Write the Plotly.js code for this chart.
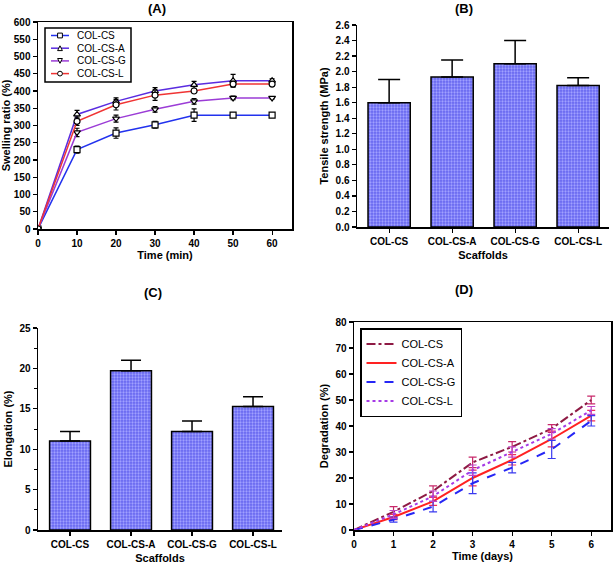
<!DOCTYPE html>
<html>
<head>
<meta charset="utf-8">
<script src="https://cdn.plot.ly/plotly-3.0.1.min.js"></script>
<style>html,body{margin:0;padding:0;background:#fff;}#chart{width:614px;height:565px;}</style>
</head>
<body>
<div id="chart"></div>
<script>
// ---- Data ----
const seriesNames = ["COL-CS", "COL-CS-A", "COL-CS-G", "COL-CS-L"];

// (A) Swelling ratio
const swellTime = [0, 10, 20, 30, 40, 50, 60];
const swellCS  = [0, 230, 278, 302, 330, 330, 330];
const swellCSA = [0, 332, 370, 400, 418, 430, 430];
const swellCSG = [0, 280, 320, 347, 370, 380, 380];
const swellCSL = [0, 312, 360, 388, 400, 420, 420];
const swellErrCS  = [0, 10, 15, 10, 18, 5, 3];
const swellErrCSA = [0, 12, 10, 10, 10, 18, 5];
const swellErrCSG = [0, 12, 10, 8, 8, 5, 3];
const swellErrCSL = [0, 12, 15, 15, 5, 8, 5];

// (B) Tensile strength
const scaffolds = ["COL-CS", "COL-CS-A", "COL-CS-G", "COL-CS-L"];
const tensile    = [1.6, 1.93, 2.1, 1.82];
const tensileErr = [0.3, 0.22, 0.3, 0.1];

// (C) Elongation
const elongation    = [11.0, 19.7, 12.2, 15.3];
const elongationErr = [1.2, 1.3, 1.3, 1.2];

// (D) Degradation
const degDays = [0, 1, 2, 3, 4, 5, 6];
const degCS  = [0, 7, 15, 26, 32, 39, 50];
const degCSA = [0, 5, 11, 20, 27, 35, 44];
const degCSG = [0, 4, 9, 18, 24, 31, 42];
const degCSL = [0, 6, 13, 23, 30, 37, 46];
const degErrCS  = [0, 2, 2, 2, 2, 1.5, 1.5];
const degErrCSA = [0, 1, 1.5, 3, 2, 3, 2];
const degErrCSG = [0, 1, 2, 4, 2, 3.5, 2];
const degErrCSL = [0, 1.5, 2, 2, 2, 2, 1.5];

// ---- Styles ----
const FONT = "Liberation Sans, Arial, sans-serif";
const W = 614, H = 565;
const px = v => v / W;
const py = v => 1 - v / H;
const dx = (a, b) => [a / W, b / W];
const dy = (top, bottom) => [1 - bottom / H, 1 - top / H];

const aColors = ["#2232EE", "#5A2CE0", "#9B3CD6", "#F03434"];
const aSymbols = ["square", "triangle-up", "triangle-down", "circle"];
const aY = [swellCS, swellCSA, swellCSG, swellCSL];
const aErr = [swellErrCS, swellErrCSA, swellErrCSG, swellErrCSL];

const traces = [];
for (let i = 0; i < 4; i++) {
  traces.push({
    type: "scatter", mode: "lines+markers",
    x: swellTime, y: aY[i], name: seriesNames[i],
    xaxis: "x", yaxis: "y", showlegend: false,
    line: {color: aColors[i], width: 1.5},
    marker: {symbol: aSymbols[i], size: 6, color: "white", line: {color: "black", width: 1.2}},
    error_y: {type: "data", array: aErr[i], visible: true, color: "black", thickness: 1.2, width: 2.5}
  });
}

const barMarker = {
  color: "#7070F2",
  line: {color: "black", width: 1.5},
  pattern: {shape: ".", fgcolor: "#A0A0FF", bgcolor: "#6666F0", size: 3, solidity: 0.45}
};

traces.push({
  type: "bar", x: scaffolds, y: tensile, xaxis: "x2", yaxis: "y2", showlegend: false,
  width: 0.67, marker: barMarker,
  error_y: {type: "data", symmetric: false, array: tensileErr, arrayminus: [0,0,0,0], color: "black", thickness: 1.5, width: 11}
});
traces.push({
  type: "bar", x: scaffolds, y: elongation, xaxis: "x3", yaxis: "y3", showlegend: false,
  width: 0.67, marker: barMarker,
  error_y: {type: "data", symmetric: false, array: elongationErr, arrayminus: [0,0,0,0], color: "black", thickness: 1.5, width: 10}
});

const dColors = ["#8E1A44", "#FF2222", "#2626F5", "#A63AE6"];
const dErrColors = ["#C8286A", "#F0305A", "#3A3AF0", "#C044C8"];
const dDash = ["dashdot", "solid", "dash", "dot"];
const dY = [degCS, degCSA, degCSG, degCSL];
const dErr = [degErrCS, degErrCSA, degErrCSG, degErrCSL];
for (let i = 0; i < 4; i++) {
  traces.push({
    type: "scatter", mode: "lines",
    x: degDays, y: dY[i], name: seriesNames[i],
    xaxis: "x4", yaxis: "y4", legend: "legend",
    line: {color: dColors[i], width: 2, dash: dDash[i]},
    error_y: {type: "data", array: dErr[i], visible: true, color: dErrColors[i], thickness: 1.2, width: 4}
  });
}

// ---- Custom compact legend for panel (A) (legend decoration only) ----
const legShapes = [];
const legAnn = [];
const LX0 = 45, LX1 = 131, LY0 = 28, LY1 = 82;
legShapes.push({type: "rect", xref: "paper", yref: "paper", x0: px(LX0), x1: px(LX1), y0: py(LY1), y1: py(LY0),
  line: {color: "black", width: 1.5}, fillcolor: "white", layer: "above"});
for (let i = 0; i < 4; i++) {
  const ry = 35.5 + i * 12.7;
  legShapes.push({type: "line", xref: "paper", yref: "paper", x0: px(51), x1: px(69), y0: py(ry), y1: py(ry),
    line: {color: aColors[i], width: 1.5}, layer: "above"});
  const cx = 60, s = 2.4;
  let shp;
  if (i === 0) {
    shp = {type: "rect", x0: px(cx - s), x1: px(cx + s), y0: py(ry + s), y1: py(ry - s)};
  } else if (i === 3) {
    shp = {type: "circle", x0: px(cx - s), x1: px(cx + s), y0: py(ry + s), y1: py(ry - s)};
  } else if (i === 1) {
    shp = {type: "path", path: `M ${px(cx - s)} ${py(ry + s)} L ${px(cx + s)} ${py(ry + s)} L ${px(cx)} ${py(ry - s)} Z`};
  } else {
    shp = {type: "path", path: `M ${px(cx - s)} ${py(ry - s)} L ${px(cx + s)} ${py(ry - s)} L ${px(cx)} ${py(ry + s)} Z`};
  }
  Object.assign(shp, {xref: "paper", yref: "paper", line: {color: "black", width: 1}, fillcolor: "white", layer: "above"});
  legShapes.push(shp);
  legAnn.push({text: seriesNames[i], x: px(75), y: py(ry), xref: "paper", yref: "paper", xanchor: "left", yanchor: "middle",
    showarrow: false, font: {family: FONT, size: 10, color: "black"}});
}

const tickFont = {family: FONT, size: 10, color: "black", weight: "bold"};
const titleFont = {family: FONT, size: 11, color: "black", weight: "bold"};
const baseAxis = {
  showgrid: false, zeroline: false, showline: true, linecolor: "black", linewidth: 1.5,
  ticks: "outside", ticklen: 4, tickwidth: 1.2, tickcolor: "black", tickfont: tickFont
};
const panelFont = {family: FONT, size: 13, weight: "bold", color: "black"};
const panelTitle = (t, x, y) => ({text: t, x: px(x), y: py(y), xref: "paper", yref: "paper",
  xanchor: "center", yanchor: "middle", showarrow: false, font: panelFont});

const layout = {
  width: W, height: H,
  margin: {l: 0, r: 0, t: 0, b: 0},
  paper_bgcolor: "white", plot_bgcolor: "white",
  font: {family: FONT, color: "black"},
  xaxis: Object.assign({}, baseAxis, {domain: dx(38, 292), range: [0, 65.1], dtick: 10, tick0: 0, anchor: "y", mirror: true,
    title: {text: "Time (min)", font: titleFont, standoff: 4}}),
  yaxis: Object.assign({}, baseAxis, {domain: dy(22, 229), range: [0, 600], dtick: 50, anchor: "x", mirror: true,
    title: {text: "Swelling ratio (%)", font: titleFont, standoff: 4}}),
  xaxis2: Object.assign({}, baseAxis, {domain: dx(357, 609), range: [-0.51, 3.49], anchor: "y2", type: "category",
    title: {text: "Scaffolds", font: titleFont, standoff: 6}}),
  yaxis2: Object.assign({}, baseAxis, {domain: dy(25, 227), range: [0, 2.6], dtick: 0.2, tickformat: ".1f", anchor: "x2",
    title: {text: "Tensile strength (MPa)", font: titleFont, standoff: 4}}),
  xaxis3: Object.assign({}, baseAxis, {domain: dx(38, 282), range: [-0.525, 3.475], anchor: "y3", type: "category",
    title: {text: "Scaffolds", font: titleFont, standoff: 6}}),
  yaxis3: Object.assign({}, baseAxis, {domain: dy(328, 530), range: [0, 25], dtick: 5, anchor: "x3",
    minor: {dtick: 2.5, ticks: "outside", ticklen: 2.5, tickcolor: "black", tickwidth: 1},
    title: {text: "Elongation (%)", font: titleFont, standoff: 4}}),
  xaxis4: Object.assign({}, baseAxis, {domain: dx(354, 611), range: [0, 6.5], dtick: 1, anchor: "y4", mirror: true,
    title: {text: "Time (days)", font: titleFont, standoff: 4}}),
  yaxis4: Object.assign({}, baseAxis, {domain: dy(322, 530), range: [0, 80], dtick: 10, anchor: "x4", mirror: true,
    title: {text: "Degradation (%)", font: titleFont, standoff: 4}}),
  legend: {x: 360 / W, y: 1 - 328 / H, xanchor: "left", yanchor: "top",
    bgcolor: "white", bordercolor: "black", borderwidth: 1.5,
    font: {family: FONT, size: 11, color: "black"}, itemwidth: 30, tracegroupgap: 0},
  shapes: legShapes,
  annotations: [
    panelTitle("(A)", 157, 9),
    panelTitle("(B)", 464, 9),
    panelTitle("(C)", 153, 292),
    panelTitle("(D)", 464, 289)
  ].concat(legAnn)
};

Plotly.newPlot("chart", traces, layout, {displayModeBar: false, staticPlot: true});
</script>
</body>
</html>
